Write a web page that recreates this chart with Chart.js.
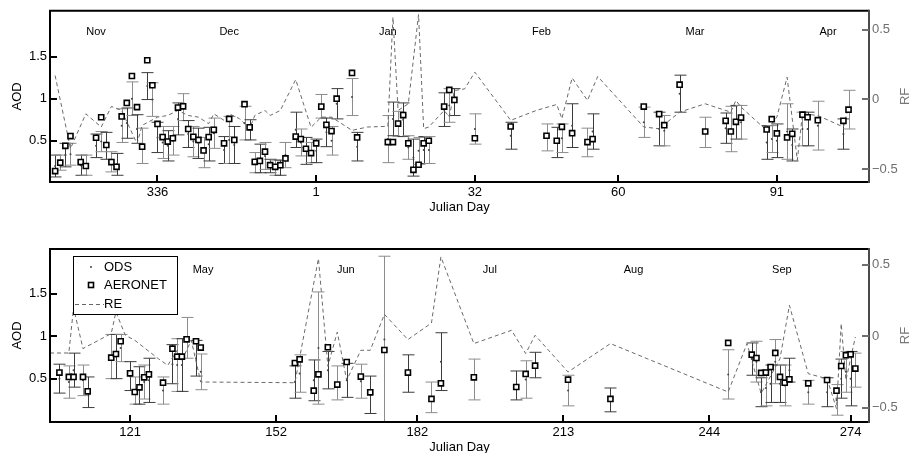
<!DOCTYPE html>
<html>
<head>
<meta charset="utf-8">
<script src="https://cdn.jsdelivr.net/npm/chart.js@4.4.1/dist/chart.umd.min.js"></script>
<style>
  body { margin: 0; background: #fff; }
  #top { position: absolute; left: 0; top: 0; width: 911px; height: 226px; }
  #bot { position: absolute; left: 0; top: 230px; width: 911px; height: 223px; }
</style>
</head>
<body>
<div id="top"><canvas id="c1"></canvas></div>
<div id="bot"><canvas id="c2"></canvas></div>
<script>
// ---- top panel: Nov 2004 - Apr 2005 (Julian days, days < 200 are in 2005)
const topDays = [316,317,318,319,321,322,324,325,326,327,328,329,330,331,332,333,334,335,336,337,
  338,339,340,341,342,343,344,345,346,347,349,350,351,353,354,355,356,357,358,359,
  360,361,363,364,365,366,1,2,3,4,5,8,9,15,16,17,18,19,20,21,
  22,23,26,27,28,32,39,46,48,49,51,54,55,65,68,69,72,77,81,82,
  83,84,89,90,91,93,94,96,97,99,104,105];
const topAeronet = [0.14,0.24,0.44,0.556,0.247,0.2,0.536,0.78,0.45,0.247,0.19,0.79,0.95,1.27,0.9,0.43,1.457,1.16,0.7,0.544,
  0.49,0.53,0.895,0.91,0.64,0.547,0.51,0.385,0.544,0.63,0.47,0.76,0.51,0.935,0.66,0.25,0.26,0.37,0.21,0.19,
  0.21,0.29,0.55,0.52,0.405,0.354,0.47,0.907,0.69,0.615,1.0,1.307,0.54,0.485,0.485,0.705,0.805,0.47,0.155,0.215,
  0.47,0.5,0.907,1.105,0.986,0.53,0.67,0.56,0.5,0.666,0.59,0.485,0.52,0.907,0.817,0.686,1.167,0.61,0.737,0.61,
  0.725,0.776,0.634,0.757,0.587,0.54,0.583,0.81,0.78,0.745,0.737,0.87];
const topOds = [0.2,0.24,0.33,0.34,0.21,0.21,0.44,0.49,0.44,0.25,0.22,0.68,0.71,1.0,0.64,0.44,1.15,0.99,0.54,0.48,
  0.44,0.5,0.76,0.9,0.58,0.49,0.47,0.36,0.46,0.59,0.39,0.51,0.45,0.71,0.63,0.24,0.29,0.32,0.2,0.18,
  0.18,0.33,0.63,0.48,0.38,0.36,0.38,0.91,0.6,0.5,0.94,1.02,0.43,0.52,0.76,0.7,0.75,0.42,0.3,0.38,
  0.39,0.39,0.87,0.92,0.96,0.64,0.56,0.54,0.48,0.53,0.68,0.48,0.61,0.72,0.64,0.62,1.06,0.6,0.65,0.64,
  0.72,0.72,0.48,0.52,0.5,0.61,0.45,0.64,0.64,0.68,0.58,0.87];
const topErr = [0.13,0.09,0.14,0.13,0.12,0.12,0.14,0.12,0.16,0.12,0.13,0.2,0.18,0.2,0.17,0.21,0.16,0.2,0.18,0.19,
  0.18,0.17,0.19,0.16,0.16,0.18,0.18,0.18,0.2,0.18,0.16,0.28,0.22,0.2,0.12,0.12,0.17,0.16,0.08,0.09,
  0.09,0.15,0.21,0.16,0.16,0.12,0.14,0.14,0.17,0.17,0.18,0.22,0.17,0.28,0.2,0.15,0.2,0.14,0.22,0.16,
  0.16,0.16,0.2,0.2,0.16,0.18,0.16,0.16,0.18,0.17,0.26,0.17,0.21,0.18,0.2,0.18,0.22,0.18,0.18,0.27,
  0.2,0.2,0.2,0.16,0.2,0.33,0.19,0.2,0.2,0.29,0.18,0.23];
const topReDays = [316,319,322,325,327,329,332,333,336,338,340,342,344,346,347,349,350,352,354,355,
  357,358,360,363,366,2,4,8,11,15,16,17,19,21,22,23,26,27,28,30,
  32,39,44,48,49,51,54,56,65,68,72,77,82,83,84,89,91,93,95,96,99,104,105];
const topRe = [0.172,-0.353,-0.103,-0.198,-0.05,-0.079,-0.318,-0.186,-0.127,-0.115,-0.079,-0.115,-0.127,-0.174,-0.103,-0.15,-0.103,-0.138,-0.21,-0.115,
  -0.079,-0.115,-0.079,0.143,-0.2,-0.127,-0.127,-0.222,-0.198,-0.193,0.59,-0.079,-0.031,0.61,-0.21,-0.198,-0.079,-0.127,0.064,0.076,
  0.196,-0.15,-0.079,-0.036,-0.138,0.155,-0.007,0.165,-0.198,-0.21,-0.091,-0.031,-0.091,-0.007,-0.055,-0.222,-0.127,0.16,-0.437,-0.103,-0.115,-0.198,-0.055];
const topTicks = [336, 1, 32, 60, 91];
const topMonths = ['Nov','Dec','Jan','Feb','Mar','Apr'];
const topMonthDays = [324, 350, 15, 45, 75, 101];

// ---- bottom panel: May - Sep 2005
const botDays = [106,108,109,111,112,117,118,119,121,122,123,124,125,128,130,131,132,133,135,136,
  156,157,160,161,163,165,167,170,172,175,180,185,187,194,203,205,207,214,223,248,
  253,254,255,256,257,258,259,260,261,265,269,271,272,273,274,275];
const botAeronet = [0.571,0.52,0.52,0.52,0.351,0.747,0.79,0.94,0.563,0.343,0.398,0.516,0.551,0.453,0.853,0.759,0.759,0.963,0.94,0.865,
  0.684,0.727,0.359,0.551,0.869,0.43,0.696,0.524,0.339,0.837,0.571,0.261,0.445,0.516,0.402,0.555,0.653,0.488,0.261,0.92,
  0.782,0.743,0.567,0.571,0.637,0.802,0.52,0.453,0.492,0.445,0.484,0.359,0.649,0.775,0.786,0.618];
const botOds = [0.5,0.46,0.6,0.48,0.34,0.76,0.76,0.86,0.53,0.36,0.42,0.46,0.48,0.36,0.67,0.66,0.66,0.98,0.74,0.58,
  0.46,0.56,0.48,0.86,0.6,0.45,0.48,0.47,0.31,0.96,0.56,0.28,0.7,0.49,0.42,0.49,0.66,0.36,0.25,0.55,
  0.73,0.7,0.34,0.39,0.44,0.7,0.44,0.42,0.6,0.34,0.34,0.25,0.5,0.58,0.5,0.6];
const botErr = [0.17,0.19,0.2,0.18,0.18,0.26,0.26,0.16,0.17,0.16,0.22,0.2,0.26,0.16,0.23,0.31,0.31,0.24,0.21,0.21,
  0.19,0.22,0.24,0.66,0.22,0.2,0.2,0.2,0.22,0.98,0.22,0.18,0.34,0.24,0.17,0.22,0.15,0.18,0.14,0.29,
  0.19,0.24,0.17,0.21,0.22,0.26,0.22,0.24,0.14,0.14,0.17,0.18,0.23,0.24,0.32,0.2];
const botReDays = [104,108,109,111,117,118,120,122,127,129,131,132,134,136,156,161,163,165,167,170,
  172,175,180,185,187,194,202,205,207,214,223,248,252,255,259,261,265,269,271,272,273,275];
const botRe = [-0.117,-0.117,0.2,-0.086,0.019,0.17,0.007,-0.028,-0.157,-0.203,-0.098,-0.168,-0.028,-0.32,-0.325,0.544,-0.21,0.03,-0.308,-0.098,
  -0.098,0.154,-0.023,0.093,0.556,-0.051,0.042,-0.121,0.007,-0.25,-0.051,-0.39,-0.051,-0.4,-0.157,0.217,-0.262,-0.297,-0.507,0.089,-0.308,-0.005];
const botTicks = [121, 152, 182, 213, 244, 274];
const botMonths = ['May','Jun','Jul','Aug','Sep'];
const botMonthDays = [136.5, 166.8, 197.4, 227.9, 259.4];

const aodTicks = [0.5, 1, 1.5];
const rfTicks = [-0.5, 0, 0.5];

Chart.defaults.font.family = '"Liberation Sans", Arial, Helvetica, sans-serif';
Chart.defaults.font.size = 13;
Chart.defaults.color = '#000';

const FONT = '"Liberation Sans", Arial, Helvetica, sans-serif';

function makeDecor(cfg) {
  return {
    id: 'decor',
    beforeDatasetsDraw(chart) {
      const { ctx, chartArea: a, scales: { x, y } } = chart;
      ctx.save();
      ctx.beginPath();
      ctx.rect(a.left, a.top, a.width, a.height);
      ctx.clip();
      ctx.lineWidth = 1;
      cfg.days.forEach((d, i) => {
        const px = Math.round(x.getPixelForValue(cfg.toX(d))) + 0.5;
        const hi = y.getPixelForValue(cfg.ods[i] + cfg.err[i]);
        const lo = y.getPixelForValue(cfg.ods[i] - cfg.err[i]);
        ctx.strokeStyle = i % 2 ? '#8c8c8c' : '#3c3c3c';
        ctx.beginPath();
        ctx.moveTo(px, hi); ctx.lineTo(px, lo);
        ctx.moveTo(px - 6, hi); ctx.lineTo(px + 6, hi);
        ctx.moveTo(px - 6, lo); ctx.lineTo(px + 6, lo);
        ctx.stroke();
      });
      ctx.restore();
    },
    afterDraw(chart) {
      const { ctx, chartArea: a, scales: { x, y, y2 } } = chart;
      ctx.save();
      // month names
      ctx.font = '11px ' + FONT;
      ctx.fillStyle = '#000';
      ctx.textAlign = 'center';
      ctx.textBaseline = 'middle';
      cfg.months.forEach((m, i) => {
        ctx.fillText(m, x.getPixelForValue(cfg.toX(cfg.monthDays[i])), a.top + 21);
      });

      // frame
      ctx.lineWidth = 2;
      ctx.strokeStyle = '#000';
      ctx.beginPath();
      ctx.moveTo(a.right, a.top); ctx.lineTo(a.left, a.top);
      ctx.lineTo(a.left, a.bottom); ctx.lineTo(a.right, a.bottom);
      ctx.stroke();
      ctx.strokeStyle = '#4a4a4a';
      ctx.beginPath();
      ctx.moveTo(a.right, a.top - 1); ctx.lineTo(a.right, a.bottom + 1);
      ctx.stroke();

      // inward tick marks
      ctx.strokeStyle = '#000';
      ctx.beginPath();
      x.ticks.forEach(t => {
        const px = Math.round(x.getPixelForValue(t.value));
        ctx.moveTo(px, a.bottom); ctx.lineTo(px, a.bottom - 7);
      });
      y.ticks.forEach(t => {
        const py = Math.round(y.getPixelForValue(t.value));
        ctx.moveTo(a.left, py); ctx.lineTo(a.left + 7, py);
      });
      ctx.stroke();
      ctx.strokeStyle = '#707070';
      ctx.beginPath();
      y2.ticks.forEach(t => {
        const py = Math.round(y2.getPixelForValue(t.value));
        ctx.moveTo(a.right, py); ctx.lineTo(a.right - 7, py);
      });
      ctx.stroke();

      // axis titles
      ctx.font = '13px ' + FONT;
      ctx.fillStyle = '#000';
      ctx.fillText('Julian Day', (a.left + a.right) / 2, a.bottom + 25);
      const midY = (a.top + a.bottom) / 2;
      ctx.save();
      ctx.translate(a.left - 33, midY);
      ctx.rotate(-Math.PI / 2);
      ctx.fillText('AOD', 0, 0);
      ctx.restore();
      ctx.save();
      ctx.fillStyle = '#777';
      ctx.translate(a.right + 36, midY);
      ctx.rotate(-Math.PI / 2);
      ctx.fillText('RF', 0, 0);
      ctx.restore();

      // legend (bottom panel only)
      if (cfg.legend) {
        const lx = a.left + 23, ly = a.top + 7;
        ctx.fillStyle = '#fff';
        ctx.fillRect(lx, ly, 104, 58);
        ctx.lineWidth = 1;
        ctx.strokeStyle = '#000';
        ctx.strokeRect(lx + 0.5, ly + 0.5, 104, 58);
        const r1 = a.top + 18, r2 = a.top + 36, r3 = a.top + 55;
        ctx.fillStyle = '#444';
        ctx.beginPath(); ctx.arc(a.left + 41, r1, 1, 0, Math.PI * 2); ctx.fill();
        ctx.lineWidth = 1.6;
        ctx.fillStyle = '#fff';
        ctx.fillRect(a.left + 38.5, r2 - 2.5, 5, 5);
        ctx.strokeRect(a.left + 38.5, r2 - 2.5, 5, 5);
        ctx.lineWidth = 1;
        ctx.strokeStyle = '#666';
        ctx.setLineDash([4, 3]);
        ctx.beginPath(); ctx.moveTo(a.left + 25, r3 + 0.5); ctx.lineTo(a.left + 54, r3 + 0.5); ctx.stroke();
        ctx.setLineDash([]);
        ctx.fillStyle = '#000';
        ctx.textAlign = 'left';
        ctx.font = '13px ' + FONT;
        ctx.fillText('ODS', a.left + 54, r1);
        ctx.fillText('AERONET', a.left + 54, r2);
        ctx.fillText('RE', a.left + 54, r3);
      }
      ctx.restore();
    }
  };
}

function buildChart(id, cfg) {
  const pts = (days, vals) => days.map((d, i) => ({ x: cfg.toX(d), y: vals[i] }));
  return new Chart(document.getElementById(id), {
    type: 'scatter',
    data: {
      datasets: [
        {
          label: 'AERONET',
          data: pts(cfg.days, cfg.aeronet),
          pointStyle: 'rect',
          pointRadius: 3.6,
          pointBorderWidth: 1.6,
          borderColor: '#000',
          backgroundColor: '#fff',
          yAxisID: 'y'
        },
        {
          label: 'ODS',
          data: pts(cfg.days, cfg.ods),
          pointRadius: 1,
          pointBorderWidth: 0,
          backgroundColor: '#444',
          borderColor: '#444',
          yAxisID: 'y'
        },
        {
          label: 'RE',
          data: pts(cfg.reDays, cfg.re),
          showLine: true,
          pointRadius: 0,
          borderColor: '#6a6a6a',
          borderWidth: 1,
          borderDash: [4, 3],
          yAxisID: 'y2'
        }
      ]
    },
    options: {
      responsive: true,
      maintainAspectRatio: false,
      animation: false,
      layout: { padding: { top: cfg.padTop, left: 0, right: 0, bottom: 0 } },
      plugins: { legend: { display: false }, tooltip: { enabled: false } },
      scales: {
        x: {
          type: 'linear',
          min: cfg.xMin,
          max: cfg.xMax,
          grid: { display: false, drawTicks: false },
          border: { display: false },
          ticks: { padding: 3, maxRotation: 0, autoSkip: false, color: '#000', callback: cfg.xLabel },
          afterBuildTicks: s => { s.ticks = cfg.xTicks.map(v => ({ value: cfg.toX(v) })); },
          afterFit: s => { s.height = cfg.xHeight; }
        },
        y: {
          position: 'left',
          min: cfg.aodMin,
          max: cfg.aodMax,
          grid: { display: false, drawTicks: false },
          border: { display: false },
          ticks: { padding: 3, color: '#000', callback: v => String(v) },
          afterBuildTicks: s => { s.ticks = aodTicks.map(v => ({ value: v })); },
          afterFit: s => { s.width = 50; }
        },
        y2: {
          position: 'right',
          min: cfg.rfMin,
          max: cfg.rfMax,
          grid: { display: false, drawTicks: false },
          border: { display: false },
          ticks: { padding: 3, color: '#6e6e6e', callback: v => v < 0 ? '\u2212' + Math.abs(v) : String(v) },
          afterBuildTicks: s => { s.ticks = rfTicks.map(v => ({ value: v })); },
          afterFit: s => { s.width = 42; }
        }
      }
    },
    plugins: [makeDecor(cfg)]
  });
}

buildChart('c1', {
  days: topDays, aeronet: topAeronet, ods: topOds, err: topErr,
  reDays: topReDays, re: topRe,
  months: topMonths, monthDays: topMonthDays,
  toX: d => d < 200 ? d + 366 : d,
  xLabel: v => v > 366 ? v - 366 : v,
  xTicks: topTicks, xMin: 315, xMax: 475,
  aodMin: 0.01, aodMax: 2.045, rfMin: -0.593, rfMax: 0.637,
  padTop: 10, xHeight: 44, legend: false
});

buildChart('c2', {
  days: botDays, aeronet: botAeronet, ods: botOds, err: botErr,
  reDays: botReDays, re: botRe,
  months: botMonths, monthDays: botMonthDays,
  toX: d => d,
  xLabel: v => v,
  xTicks: botTicks, xMin: 104, xMax: 277.9,
  aodMin: -0.01, aodMax: 2.025, rfMin: -0.6, rfMax: 0.611,
  padTop: 19, xHeight: 31, legend: true
});
</script>
</body>
</html>
